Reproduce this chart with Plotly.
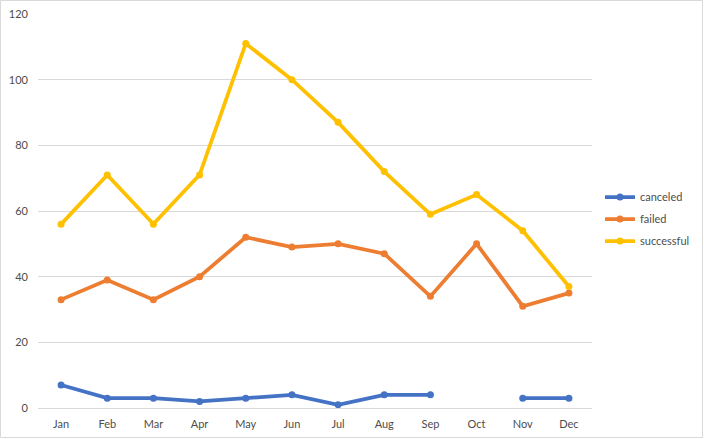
import plotly.graph_objects as go

months = ["Jan", "Feb", "Mar", "Apr", "May", "Jun", "Jul", "Aug", "Sep", "Oct", "Nov", "Dec"]
canceled = [7, 3, 3, 2, 3, 4, 1, 4, 4, None, 3, 3]
failed = [33, 39, 33, 40, 52, 49, 50, 47, 34, 50, 31, 35]
successful = [56, 71, 56, 71, 111, 100, 87, 72, 59, 65, 54, 37]
y_ticks = [0, 20, 40, 60, 80, 100, 120]

series = [("canceled", canceled, "#4472C4"),
          ("failed", failed, "#ED7D31"),
          ("successful", successful, "#FFC000")]

fig = go.Figure()
for name, vals, col in series:
    fig.add_trace(go.Scatter(
        x=months, y=vals, name=name, mode="lines+markers", legendgroup=name,
        line=dict(color=col, width=3.75), marker=dict(color=col, size=7),
        connectgaps=False))

W, H = 704, 439
L, R, T, B = 38, 112, 14, 31
pw, ph = W - L - R, H - T - B

FONT = "Lato, Open Sans, sans-serif"
TXT = "#4d4d4d"
fig.update_layout(
    width=W, height=H,
    margin=dict(l=L, r=R, t=T, b=B, autoexpand=False),
    paper_bgcolor="white", plot_bgcolor="white",
    font=dict(family=FONT, size=11, color=TXT),
    showlegend=True,
    legend=dict(x=(600 - L) / pw, y=(H - B - 219) / ph, xanchor="left", yanchor="middle",
                font=dict(family=FONT, size=11, color=TXT), itemwidth=30, tracegroupgap=3,
                bgcolor="rgba(0,0,0,0)"),
    xaxis=dict(type="category", range=[-0.5, 11.5], showgrid=False, zeroline=False,
               automargin=False,
               showline=True, linecolor="#d9d9d9", linewidth=1, ticks="",
               ticklabelstandoff=6, tickfont=dict(family=FONT, size=11, color=TXT)),
    yaxis=dict(range=[0, 120], tickvals=y_ticks, showgrid=True, gridcolor="#d9d9d9",
               automargin=False,
               gridwidth=1, zeroline=False, showline=False, ticks="",
               ticklabelstandoff=9, tickfont=dict(family=FONT, size=11, color=TXT)),
    shapes=[dict(type="rect", xref="paper", yref="paper",
                 x0=-(L - 0.5) / pw, x1=1 + (R - 1.5) / pw,
                 y0=-(B - 1.5) / ph, y1=1 + (T - 0.5) / ph,
                 line=dict(color="#d9d9d9", width=1), fillcolor="rgba(0,0,0,0)", layer="below")],
)

fig.write_html("out.html", config={"displayModeBar": False},
               post_script="document.body.style.margin='0';document.body.style.overflow='hidden';")
